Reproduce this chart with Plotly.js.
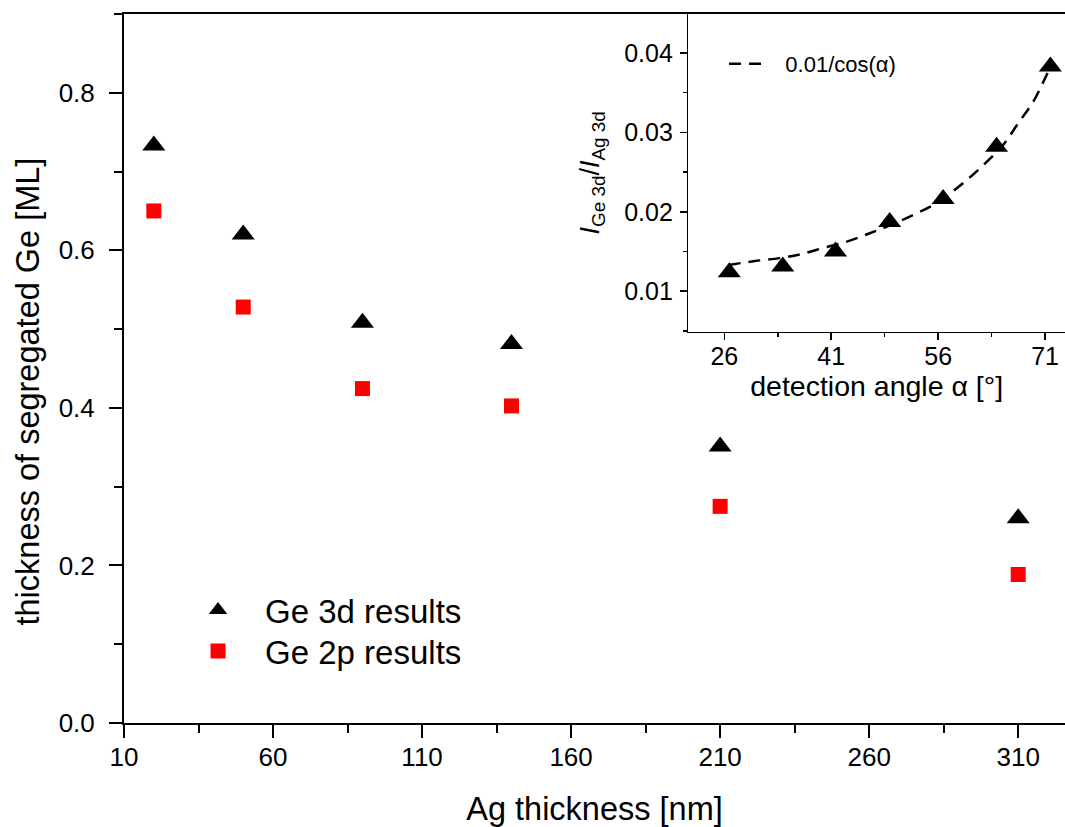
<!DOCTYPE html>
<html>
<head>
<meta charset="utf-8">
<script src="https://cdn.plot.ly/plotly-3.0.1.min.js"></script>
<style>html,body{margin:0;padding:0;background:#fff;}#chart{width:1065px;height:827px;}</style>
</head>
<body>
<div id="chart"></div>
<script>
// Main chart data
var agThickness = [20, 50, 90, 140, 210, 310];
var ge3dResults = [0.733, 0.620, 0.508, 0.481, 0.351, 0.260];
var ge2pResults = [0.650, 0.528, 0.4245, 0.4025, 0.275, 0.1885];
var mainXTicks = [10, 60, 110, 160, 210, 260, 310];
var mainYTicks = [0.0, 0.2, 0.4, 0.6, 0.8];

// Inset data
var detAngle = [26.7, 34.2, 41.6, 49.2, 56.7, 64.2, 71.75];
var intensityRatio = [0.0124, 0.0131, 0.0150, 0.0187, 0.0216, 0.0282, 0.0383];
var fitAngle = [26.6, 30.3, 34.1, 36.9, 40.1, 43.4, 46.4, 49.0, 52.5, 55.6, 58.8, 61.9, 65.1, 67.2, 69.3, 71.0, 71.7];
var fitRatio = [0.0133, 0.0138, 0.0142, 0.0147, 0.0155, 0.0163, 0.0173, 0.0182, 0.0196, 0.0210, 0.0231, 0.0255, 0.0284, 0.0311, 0.0338, 0.0368, 0.0382];
var insetXTicks = [26, 41, 56, 71];
var insetYTicks = [0.01, 0.02, 0.03, 0.04];

var FONT = 'Arial, "Liberation Sans", sans-serif';

var traces = [
  {x: agThickness, y: ge3dResults, type: 'scatter', mode: 'markers', name: 'Ge 3d results',
   marker: {symbol: 'triangle-up', size: 20, color: '#000000'}, xaxis: 'x', yaxis: 'y', legend: 'legend'},
  {x: agThickness, y: ge2pResults, type: 'scatter', mode: 'markers', name: 'Ge 2p results',
   marker: {symbol: 'square', size: 15, color: '#ff0000'}, xaxis: 'x', yaxis: 'y', legend: 'legend3'},
  {x: fitAngle, y: fitRatio, type: 'scatter', mode: 'lines', name: '\u00a0\u00a0\u00a00.01/cos(α)',
   line: {color: '#000000', width: 2.5, dash: '12px,8px', shape: 'spline', smoothing: 1},
   xaxis: 'x2', yaxis: 'y2', legend: 'legend2'},
  {x: detAngle, y: intensityRatio, type: 'scatter', mode: 'markers', name: 'inset data', showlegend: false,
   marker: {symbol: 'triangle-up', size: 20, color: '#000000'}, xaxis: 'x2', yaxis: 'y2'}
];

var mainLegendStyle = {
  xanchor: 'left', yanchor: 'top',
  bgcolor: 'rgba(0,0,0,0)', borderwidth: 0,
  font: {size: 33, family: FONT, color: '#000'},
  itemwidth: 84
};

var layout = {
  width: 1065, height: 827,
  margin: {l: 124, r: 0, t: 14, b: 104},
  paper_bgcolor: '#ffffff', plot_bgcolor: '#ffffff',
  font: {family: FONT, color: '#000000'},
  showlegend: true,
  xaxis: {
    domain: [0, 1], range: [10, 325.7], anchor: 'y',
    tickmode: 'array', tickvals: mainXTicks, ticktext: mainXTicks.map(String),
    ticks: 'outside', ticklen: 13, tickwidth: 2, tickcolor: '#000',
    minor: {tickmode: 'linear', tick0: 10, dtick: 25, ticks: 'outside', ticklen: 8, tickwidth: 2, tickcolor: '#000', showgrid: false},
    showline: true, linewidth: 2, linecolor: '#000', mirror: true,
    showgrid: false, zeroline: false,
    tickfont: {size: 26, family: FONT}, ticklabelstandoff: -3,
    title: {text: 'Ag thickness [nm]', font: {size: 32.5, family: FONT}, standoff: 31}
  },
  yaxis: {
    domain: [0, 1], range: [0, 0.9], anchor: 'x',
    tickmode: 'array', tickvals: mainYTicks, ticktext: mainYTicks.map(function(v){return v.toFixed(1);}),
    ticks: 'outside', ticklen: 13, tickwidth: 2, tickcolor: '#000',
    minor: {tickmode: 'linear', tick0: 0, dtick: 0.1, ticks: 'outside', ticklen: 8, tickwidth: 2, tickcolor: '#000', showgrid: false},
    showline: true, linewidth: 2, linecolor: '#000', mirror: false,
    showgrid: false, zeroline: false,
    tickfont: {size: 26, family: FONT}, ticklabelstandoff: 9
  },
  xaxis2: {
    domain: [0.5997, 1], range: [20.95, 73.8], anchor: 'y2',
    tickmode: 'array', tickvals: insetXTicks, ticktext: insetXTicks.map(String),
    ticks: 'outside', ticklen: 7, tickwidth: 1.5, tickcolor: '#000',
    minor: {tickmode: 'linear', tick0: 26, dtick: 7.5, ticks: 'outside', ticklen: 4, tickwidth: 1.5, tickcolor: '#000', showgrid: false},
    showline: true, linewidth: 1.5, linecolor: '#000', mirror: false,
    showgrid: false, zeroline: false,
    tickfont: {size: 25, family: FONT}, ticklabelstandoff: -5,
    title: {text: 'detection angle α [°]', font: {size: 28.5, family: FONT}, standoff: 6}
  },
  yaxis2: {
    domain: [0.5519, 1], range: [0.0049, 0.0449], anchor: 'x2',
    tickmode: 'array', tickvals: insetYTicks, ticktext: insetYTicks.map(function(v){return v.toFixed(2);}),
    ticks: 'outside', ticklen: 7, tickwidth: 1.5, tickcolor: '#000',
    minor: {tickmode: 'linear', tick0: 0.005, dtick: 0.005, ticks: 'outside', ticklen: 4, tickwidth: 1.5, tickcolor: '#000', showgrid: false},
    showline: true, linewidth: 1.5, linecolor: '#000', mirror: false,
    showgrid: false, zeroline: false,
    tickfont: {size: 25, family: FONT}, ticklabelstandoff: 2,
    title: {text: '<i>I</i><sub>Ge 3d</sub>/<i>I</i><sub>Ag 3d</sub>', font: {size: 27, family: FONT}, standoff: 16}
  },
  legend: Object.assign({x: 0.05, y: 0.1988}, mainLegendStyle),
  legend3: Object.assign({x: 0.05, y: 0.141}, mainLegendStyle),
  legend2: {
    x: 0.6376, y: 0.959, xanchor: 'left', yanchor: 'top',
    bgcolor: 'rgba(0,0,0,0)', borderwidth: 0,
    font: {size: 22, family: FONT, color: '#000'},
    itemwidth: 33
  },
  annotations: [
    {text: 'thickness of segregated Ge [ML]', textangle: -90, xref: 'paper', yref: 'paper',
     x: -0.102, y: 0.4676, xanchor: 'center', yanchor: 'middle', showarrow: false,
     font: {size: 32.5, family: FONT, color: '#000'}}
  ]
};

Plotly.newPlot('chart', traces, layout, {displayModeBar: false, staticPlot: true});
</script>
</body>
</html>
